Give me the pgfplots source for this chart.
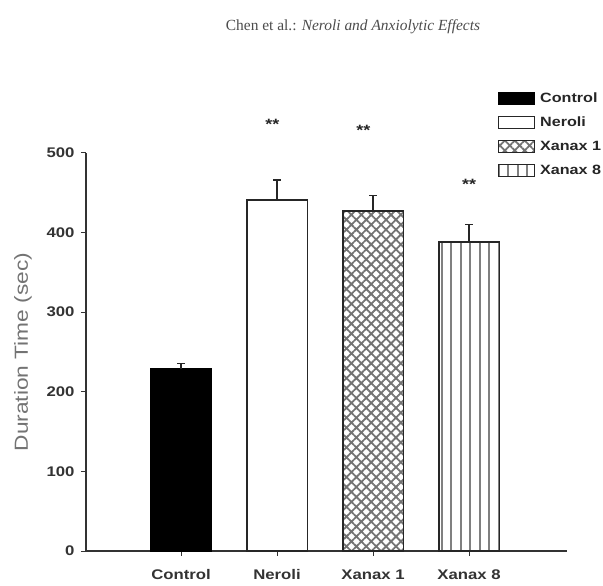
\documentclass[border=0pt]{standalone}
\usepackage{fontspec}
\setmainfont{Liberation Sans}
\newfontfamily\seriffont{Liberation Serif}
\newfontfamily\widefont[FakeStretch=1.2]{Liberation Sans}
\usepackage{pgfplots}
\pgfplotsset{compat=1.18}
\usetikzlibrary{patterns.meta}

% vertical stripes with tiles that overlap a little, so no seams show
\pgfdeclarepatternformonly{vstripes}{\pgfqpoint{-1bp}{-1bp}}{\pgfqpoint{10.5bp}{11bp}}{\pgfqpoint{9.5bp}{10bp}}{%
  \pgfsetlinewidth{2.2bp}%
  \pgfpathmoveto{\pgfqpoint{4.75bp}{-1.5bp}}%
  \pgfpathlineto{\pgfqpoint{4.75bp}{11.5bp}}%
  \pgfusepath{stroke}}

\begin{document}
\begin{tikzpicture}
\path[use as bounding box] (-86bp,-35bp) rectangle (517bp,551bp);
\begin{axis}[
  at={(0,0)}, anchor=south west,
  scale only axis, width=481bp, height=398bp,
  xmin=-0.99, xmax=4.02, ymin=0, ymax=500,
  axis x line*=bottom, axis y line*=left,
  x axis line style={line width=2.4bp, black!80},
  y axis line style={line width=1.8bp, black!80},
  xtick={0,1,2,3},
  xticklabels={Control,Neroli,Xanax 1,Xanax 8},
  ytick={0,100,...,500},
  tick align=outside, major tick length=5bp,
  tick style={line width=1bp, black!80},
  ticklabel style={font=\widefont\fontsize{14}{16}\selectfont\bfseries, text=black!80},
  xticklabel style={yshift=-10bp},
  yticklabel style={xshift=-3bp},
  /pgf/number format/assume math mode=true,
  ylabel={Duration Time (sec)},
  every axis y label/.style={at={(axis description cs:-0.131,0.5)}, rotate=90, anchor=center,
    font=\widefont\fontsize{19}{21}\selectfont, text=black!55},
  ybar, bar width=0.63, bar shift=0pt,
  clip=false,
  legend style={at={(0.856,1.155)}, anchor=north west, draw=none, fill=none,
    inner sep=0pt, row sep=11bp, font=\widefont\fontsize{13.5}{15}\selectfont\bfseries,
    text=black!85, nodes={inner xsep=5bp, inner ysep=0pt}},
  legend cell align=left,
  legend image code/.code={\draw[#1, line width=1.2bp] (0bp,-6bp) rectangle (36bp,6bp);},
  error bars/y dir=plus, error bars/y explicit,
  error bars/error mark options={rotate=90, mark size=4bp, line width=1.2bp},
  error bars/error bar style={line width=1.4bp, black!85},
]
% control group
\addplot[fill=black, draw=black, line width=1.2bp]
  coordinates {(0,229) +- (0,7)};
\addlegendentry{Control}
% neroli group
\addplot[fill=white, draw=black!85, line width=1.4bp]
  coordinates {(1,441) +- (0,25)};
\addlegendentry{Neroli}
% Xanax, first dose
\addplot[draw=black!85, line width=1.4bp,
  pattern={Hatch[angle=45, distance=7bp, line width=1.8bp]}, pattern color=black!55]
  coordinates {(2,427) +- (0,20)};
\addlegendentry{Xanax 1}
% Xanax, second dose
\addplot[draw=black!85, line width=1.4bp,
  pattern=vstripes, pattern color=black!50]
  coordinates {(3,388) +- (0,22)};
\addlegendentry{Xanax 8}

% significance marks
\node[font=\widefont\fontsize{15}{17}\selectfont\bfseries, text=black!85] at (axis cs:0.95,536) {**};
\node[font=\widefont\fontsize{15}{17}\selectfont\bfseries, text=black!85] at (axis cs:1.9,529) {**};
\node[font=\widefont\fontsize{15}{17}\selectfont\bfseries, text=black!85] at (axis cs:3.0,460) {**};

% running head
\node[font=\seriffont\fontsize{15.5}{17}\selectfont, text=black!70] at (rel axis cs:0.555,1.317)
  {Chen et al.: \textit{Neroli and Anxiolytic Effects}};
\end{axis}
\end{tikzpicture}
\end{document}
